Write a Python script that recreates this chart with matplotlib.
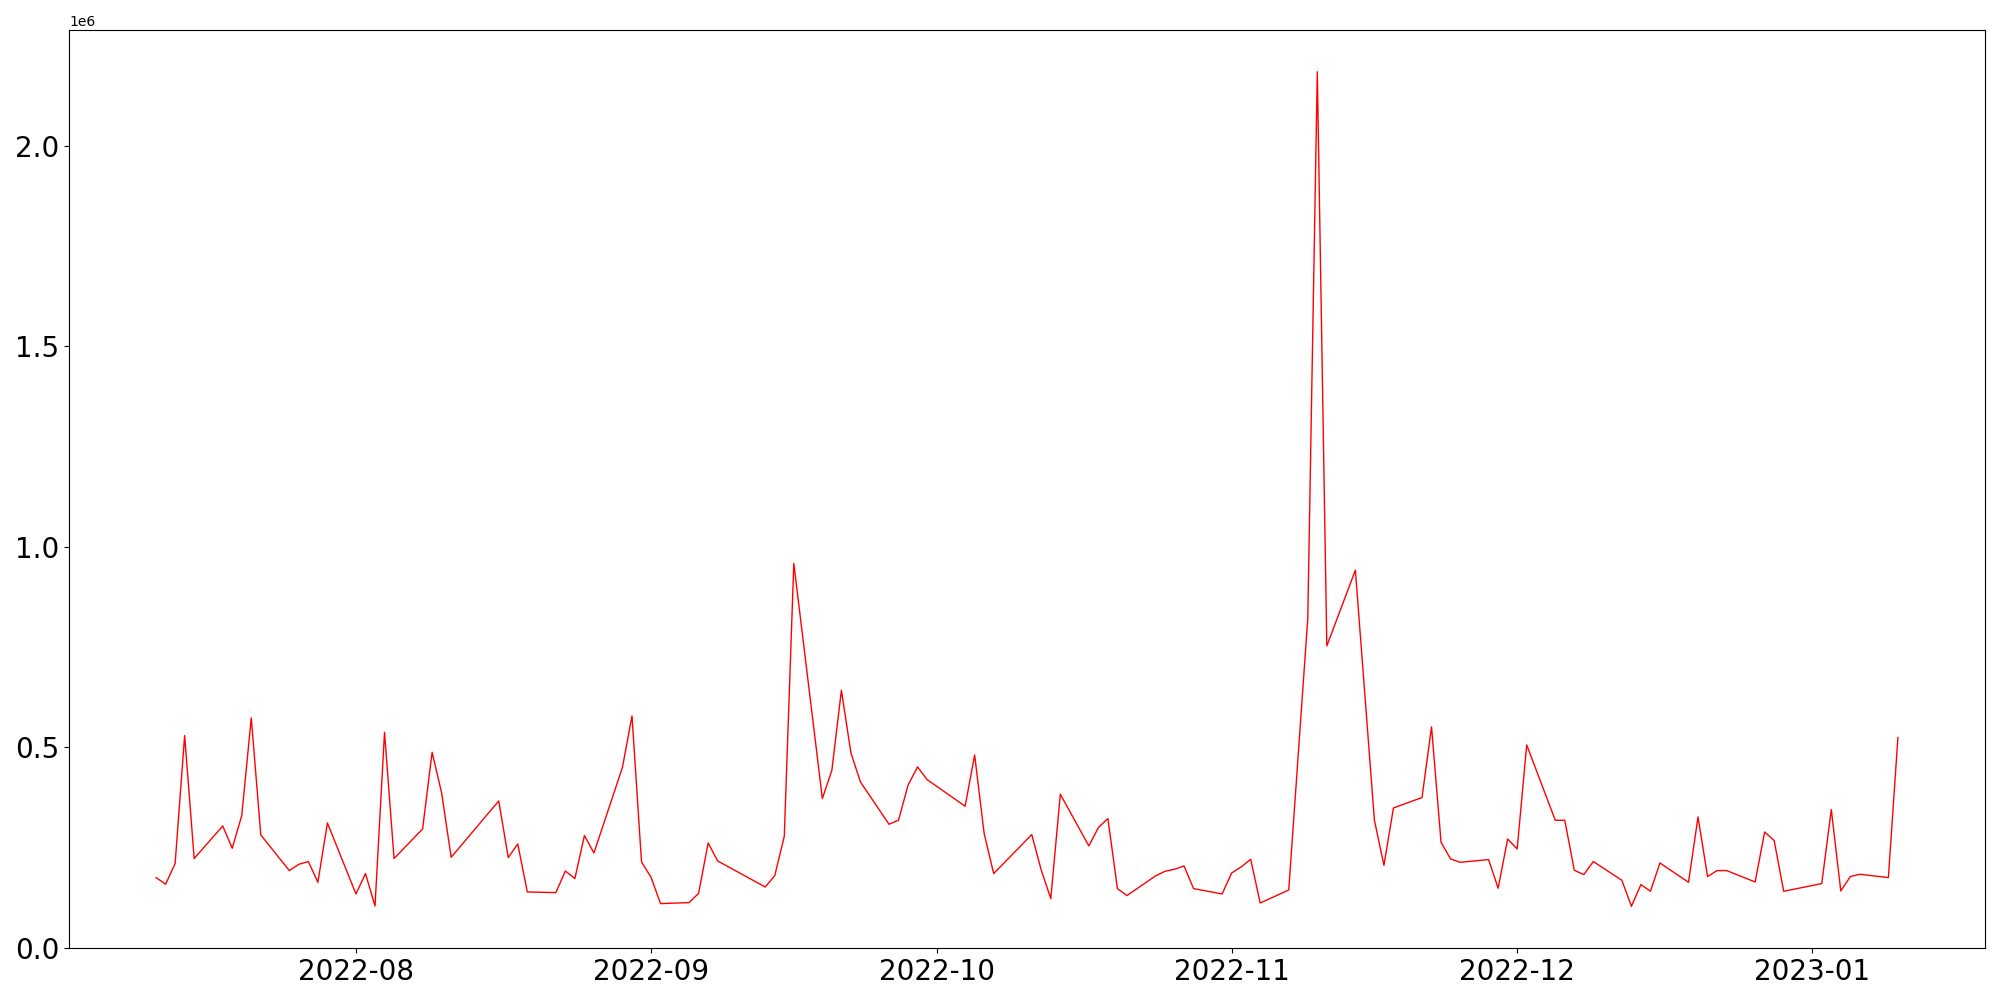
import matplotlib
matplotlib.use("Agg")
import matplotlib.pyplot as plt
import matplotlib.dates as mdates
import pandas as pd

dates = [
    "2022-07-11", "2022-07-12", "2022-07-13", "2022-07-14", "2022-07-15",
    "2022-07-18", "2022-07-19", "2022-07-20", "2022-07-21", "2022-07-22",
    "2022-07-25", "2022-07-26", "2022-07-27", "2022-07-28", "2022-07-29",
    "2022-08-01", "2022-08-02", "2022-08-03", "2022-08-04", "2022-08-05",
    "2022-08-08", "2022-08-09", "2022-08-10", "2022-08-11",
    "2022-08-16", "2022-08-17", "2022-08-18", "2022-08-19",
    "2022-08-22", "2022-08-23", "2022-08-24", "2022-08-25", "2022-08-26",
    "2022-08-29", "2022-08-30", "2022-08-31", "2022-09-01", "2022-09-02",
    "2022-09-05", "2022-09-06", "2022-09-07", "2022-09-08",
    "2022-09-13", "2022-09-14", "2022-09-15", "2022-09-16",
    "2022-09-19", "2022-09-20", "2022-09-21", "2022-09-22", "2022-09-23",
    "2022-09-26", "2022-09-27", "2022-09-28", "2022-09-29", "2022-09-30",
    "2022-10-04", "2022-10-05", "2022-10-06", "2022-10-07",
    "2022-10-11", "2022-10-12", "2022-10-13", "2022-10-14",
    "2022-10-17", "2022-10-18", "2022-10-19", "2022-10-20", "2022-10-21",
    "2022-10-24", "2022-10-25", "2022-10-26", "2022-10-27", "2022-10-28",
    "2022-10-31", "2022-11-01", "2022-11-02", "2022-11-03", "2022-11-04",
    "2022-11-07", "2022-11-09", "2022-11-10", "2022-11-11",
    "2022-11-14", "2022-11-16", "2022-11-17", "2022-11-18",
    "2022-11-21", "2022-11-22", "2022-11-23", "2022-11-24", "2022-11-25",
    "2022-11-28", "2022-11-29", "2022-11-30", "2022-12-01", "2022-12-02",
    "2022-12-05", "2022-12-06", "2022-12-07", "2022-12-08", "2022-12-09",
    "2022-12-12", "2022-12-13", "2022-12-14", "2022-12-15", "2022-12-16",
    "2022-12-19", "2022-12-20", "2022-12-21", "2022-12-22", "2022-12-23",
    "2022-12-26", "2022-12-27", "2022-12-28", "2022-12-29",
    "2023-01-02", "2023-01-03", "2023-01-04", "2023-01-05", "2023-01-06",
    "2023-01-09", "2023-01-10",
]

volume = [
    175600, 158900, 210500, 529700, 223000,
    304200, 248600, 330200, 573600, 281800,
    193000, 208700, 215500, 163800, 311700,
    134700, 185500, 104700, 537900, 223000,
    296800, 488000, 386500, 226200,
    366600, 225400, 259400, 139700,
    138100, 192000, 173100, 280300, 236900,
    450600, 578600, 214500, 176300, 110700,
    113200, 136400, 261800, 217000,
    152100, 180500, 278500, 958600,
    372500, 443100, 642600, 486300, 414000,
    308500, 318500, 405700, 451400, 419900,
    353400, 481300, 285300, 185500,
    282800, 193800, 123200, 383300,
    254400, 300200, 322700, 148100, 130700,
    179600, 191300, 196300, 204500, 148100,
    134700, 187000, 202000, 221200, 112200,
    144600, 822000, 2184500, 753000,
    942000, 318500, 206200, 349100,
    375000, 551200, 263600, 222000, 213700,
    220400, 149000, 271800, 246900, 506200,
    318500, 318500, 193800, 183000, 215500,
    168800, 104000, 158100, 141400, 212000,
    163800, 326700, 178100, 193000, 193000,
    164600, 289300, 267800, 141400,
    160600, 345100, 142200, 178100, 183800,
    175600, 524700,
]


def main() -> None:
    t = pd.to_datetime(dates)

    fig, ax = plt.subplots(figsize=(20, 10), dpi=100)
    ax.plot(t, volume, "r-", linewidth=1.0)

    ax.xaxis.set_major_locator(mdates.MonthLocator())
    ax.xaxis.set_major_formatter(mdates.DateFormatter("%Y-%m"))
    ax.set_ylim(bottom=0)
    plt.xticks(fontsize=20)
    plt.yticks(fontsize=20)

    fig.subplots_adjust(left=0.0345, right=0.9925, bottom=0.052, top=0.97)
    fig.savefig("out.png")


if __name__ == "__main__":
    main()
